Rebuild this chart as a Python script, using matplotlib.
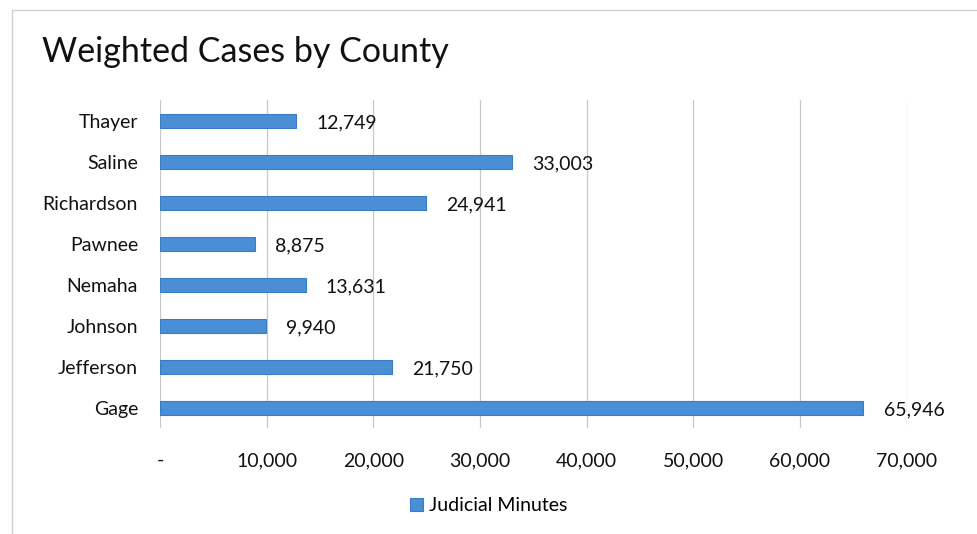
import matplotlib.pyplot as plt
from matplotlib.patches import Rectangle

counties = ['Gage', 'Jefferson', 'Johnson', 'Nemaha', 'Pawnee', 'Richardson', 'Saline', 'Thayer']
minutes = [65946, 21750, 9940, 13631, 8875, 24941, 33003, 12749]
ticks = [0, 10000, 20000, 30000, 40000, 50000, 60000, 70000]

plt.rcParams['font.family'] = ['Lato', 'DejaVu Sans']

fig = plt.figure(figsize=(9.77, 5.34), dpi=100)
ax = fig.add_axes([0.164, 0.198, 0.764, 0.614])

bars = ax.barh(range(len(counties)), minutes, height=0.35, color='#4a8fd6',
               edgecolor='#3a7cc4', linewidth=0.8, label='Judicial Minutes', zorder=3)

for i, v in enumerate(minutes):
    ax.text(v + 1900, i - 0.06, f'{v:,}', va='center', ha='left', fontsize=14, color='#111111')

ax.set_xlim(0, 70000)
ax.set_ylim(-0.5, len(counties) - 0.5)
ax.set_yticks(range(len(counties)))
ax.set_yticklabels(counties, fontsize=14, color='#111111')
ax.set_xticks(ticks)
ax.set_xticklabels(['-'] + [f'{t:,}' for t in ticks[1:]], fontsize=14, color='#111111')
ax.tick_params(axis='x', length=0, pad=17)
ax.tick_params(axis='y', length=0, pad=16)
ax.grid(axis='x', color='#c8c8c8', linewidth=0.9, zorder=0)
for s in ax.spines.values():
    s.set_visible(False)

fig.text(0.043, 0.903, 'Weighted Cases by County', fontsize=24.5, color='#111111', va='center')

leg = fig.legend(handles=[bars], labels=['Judicial Minutes'], loc='center',
                 bbox_to_anchor=(0.5, 0.053), frameon=False, fontsize=14,
                 handlelength=0.7, handleheight=0.7, handletextpad=0.3)

fig.patches.append(Rectangle((0.012, -0.01), 1.0, 0.992, transform=fig.transFigure,
                             fill=False, edgecolor='#d0d0d0', linewidth=1))

fig.savefig('out.png', dpi=100)
